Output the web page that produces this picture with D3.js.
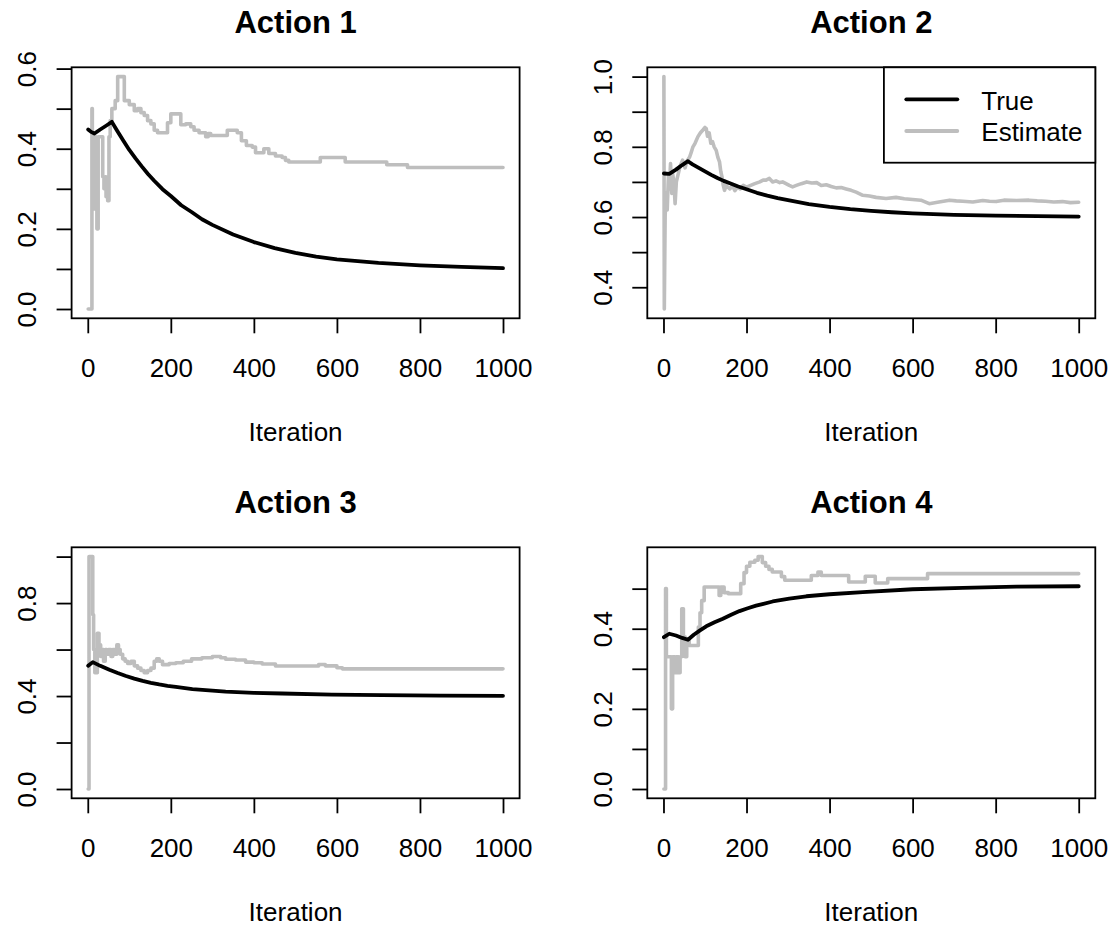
<!DOCTYPE html>
<html><head><meta charset="utf-8">
<script src="https://cdn.jsdelivr.net/npm/d3@7"></script>
<style>
body{margin:0;background:#fff;}
svg{display:block;}
text{font-family:"Liberation Sans",Arial,Helvetica,sans-serif;fill:#000;}
</style>
</head><body>
<svg id="chart" width="1118" height="926"></svg>
<script>
// ---------- data ----------
const titles = ["Action 1", "Action 2", "Action 3", "Action 4"];
const xLabel = "Iteration";
const iterTicks = [0, 200, 400, 600, 800, 1000];
const legendLabels = ["True", "Estimate"];

const yTicks1 = [0, 0.1, 0.2, 0.3, 0.4, 0.5, 0.6];
const yLabels1 = [0, 0.2, 0.4, 0.6];
const yTicks2 = [0.4, 0.5, 0.6, 0.7, 0.8, 0.9, 1.0];
const yLabels2 = [0.4, 0.6, 0.8, 1.0];
const yTicks3 = [0, 0.2, 0.4, 0.6, 0.8, 1.0];
const yLabels3 = [0, 0.4, 0.8];
const yTicks4 = [0, 0.1, 0.2, 0.3, 0.4, 0.5];
const yLabels4 = [0, 0.2, 0.4];

// Action 1
const trueIter1 = [1, 8, 16, 30, 45, 58, 70, 85, 100, 115, 130, 145, 160, 180, 200, 225, 250, 275, 300, 350, 400, 450, 500, 550, 600, 700, 800, 900, 1000];
const trueVal1 = [0.448, 0.442, 0.438, 0.448, 0.458, 0.467, 0.446, 0.421, 0.397, 0.376, 0.356, 0.337, 0.320, 0.299, 0.282, 0.259, 0.242, 0.224, 0.210, 0.186, 0.167, 0.152, 0.140, 0.131, 0.124, 0.115, 0.109, 0.105, 0.102];
const estIter1 = [1, 10, 11, 17, 20, 22, 25, 36, 39, 42, 44, 48, 51, 54, 58, 66, 72, 88, 100, 112, 120, 128, 136, 144, 152, 160, 168, 192, 200, 224, 236, 248, 256, 268, 284, 290, 296, 336, 360, 370, 382, 396, 404, 424, 436, 452, 468, 476, 484, 560, 620, 720, 770, 1000];
const estVal1 = [0, 0.5, 0.25, 0.43, 0.25, 0.2, 0.43, 0.33, 0.3, 0.33, 0.28, 0.27, 0.43, 0.47, 0.5, 0.52, 0.58, 0.52, 0.51, 0.495, 0.5, 0.49, 0.483, 0.47, 0.462, 0.446, 0.44, 0.465, 0.487, 0.46, 0.462, 0.455, 0.446, 0.44, 0.43, 0.438, 0.433, 0.446, 0.44, 0.42, 0.408, 0.404, 0.39, 0.4, 0.388, 0.382, 0.378, 0.371, 0.367, 0.378, 0.367, 0.36, 0.353, 0.353];

// Action 2
const trueIter2 = [1, 14, 30, 45, 59, 70, 85, 100, 115, 130, 145, 160, 180, 200, 225, 250, 275, 300, 350, 400, 450, 500, 550, 600, 700, 800, 900, 1000];
const trueVal2 = [0.724, 0.723, 0.735, 0.748, 0.759, 0.750, 0.740, 0.730, 0.720, 0.711, 0.703, 0.696, 0.687, 0.679, 0.669, 0.661, 0.654, 0.648, 0.637, 0.629, 0.6225, 0.6175, 0.6136, 0.6106, 0.6064, 0.6039, 0.6024, 0.6014];
const estIter2 = [1, 2, 4, 6, 9, 12, 14, 17, 20, 22, 25, 28, 31, 35, 40, 46, 52, 57, 63, 67, 71, 76, 83, 89, 95, 100, 103, 106, 110, 114, 118, 122, 127, 131, 135, 138, 141, 144, 147, 151, 155, 160, 166, 172, 178, 185, 192, 200, 210, 220, 232, 240, 247, 255, 263, 271, 280, 287, 295, 303, 311, 320, 332, 345, 357, 369, 380, 392, 404, 416, 428, 440, 452, 464, 480, 496, 512, 536, 560, 580, 600, 620, 640, 660, 689, 705, 721, 745, 769, 785, 801, 820, 850, 880, 900, 920, 940, 961, 980, 1000];
const estVal2 = [1.0, 0.338, 0.6, 0.667, 0.62, 0.72, 0.68, 0.752, 0.667, 0.724, 0.7, 0.638, 0.7, 0.72, 0.745, 0.762, 0.74, 0.76, 0.771, 0.785, 0.8, 0.81, 0.829, 0.84, 0.848, 0.855, 0.852, 0.83, 0.84, 0.81, 0.815, 0.8, 0.79, 0.77, 0.757, 0.73, 0.714, 0.69, 0.676, 0.69, 0.685, 0.68, 0.69, 0.675, 0.685, 0.68, 0.69, 0.685, 0.69, 0.695, 0.7, 0.705, 0.705, 0.71, 0.7, 0.703, 0.698, 0.7, 0.695, 0.69, 0.686, 0.69, 0.695, 0.7, 0.697, 0.698, 0.69, 0.692, 0.687, 0.683, 0.684, 0.68, 0.676, 0.671, 0.662, 0.66, 0.656, 0.653, 0.656, 0.652, 0.65, 0.648, 0.638, 0.642, 0.648, 0.646, 0.645, 0.643, 0.647, 0.645, 0.644, 0.648, 0.647, 0.648, 0.646, 0.645, 0.643, 0.644, 0.641, 0.642];

// Action 3
const trueIter3 = [1, 12, 30, 52, 72, 92, 112, 132, 152, 172, 192, 212, 252, 292, 332, 400, 468, 588, 709, 850, 1000];
const trueVal3 = [0.53, 0.546, 0.53, 0.513, 0.499, 0.486, 0.475, 0.465, 0.457, 0.45, 0.444, 0.439, 0.43, 0.424, 0.419, 0.414, 0.411, 0.406, 0.404, 0.402, 0.401];
const estIter3 = [1, 3, 12, 14, 17, 19, 21, 23, 27, 31, 35, 38, 42, 46, 50, 56, 60, 66, 70, 74, 78, 84, 90, 96, 104, 112, 120, 128, 136, 144, 152, 160, 166, 172, 180, 196, 212, 230, 250, 275, 300, 320, 332, 356, 380, 400, 420, 452, 556, 572, 600, 613, 1000];
const estVal3 = [0, 1.0, 0.75, 0.6, 0.5, 0.58, 0.5, 0.67, 0.62, 0.57, 0.6, 0.55, 0.6, 0.58, 0.6, 0.57, 0.6, 0.58, 0.62, 0.6, 0.58, 0.56, 0.55, 0.54, 0.55, 0.53, 0.52, 0.51, 0.5, 0.51, 0.52, 0.55, 0.56, 0.55, 0.535, 0.54, 0.543, 0.55, 0.56, 0.565, 0.57, 0.565, 0.558, 0.555, 0.546, 0.543, 0.538, 0.529, 0.536, 0.53, 0.522, 0.517, 0.517];

// Action 4
const trueIter4 = [1, 14, 30, 45, 59, 73, 88, 103, 123, 143, 163, 183, 203, 223, 263, 303, 344, 400, 480, 600, 721, 850, 1000];
const trueVal4 = [0.379, 0.3875, 0.383, 0.377, 0.3725, 0.385, 0.396, 0.406, 0.416, 0.425, 0.435, 0.444, 0.451, 0.4575, 0.468, 0.475, 0.481, 0.486, 0.4915, 0.4985, 0.502, 0.505, 0.506];
const estIter4 = [1, 5, 7, 19, 22, 27, 31, 36, 40, 44, 48, 52, 56, 62, 84, 88, 92, 98, 134, 138, 146, 156, 186, 194, 200, 208, 220, 228, 238, 246, 254, 262, 284, 292, 356, 372, 380, 446, 486, 510, 540, 636, 1000];
const estVal4 = [0, 0.5, 0.33, 0.2, 0.33, 0.29, 0.33, 0.29, 0.33, 0.45, 0.38, 0.33, 0.37, 0.358, 0.404, 0.44, 0.47, 0.504, 0.483, 0.504, 0.49, 0.4875, 0.5125, 0.54, 0.556, 0.566, 0.571, 0.58, 0.565, 0.556, 0.548, 0.5415, 0.53, 0.521, 0.533, 0.5415, 0.533, 0.5165, 0.531, 0.514, 0.525, 0.5375, 0.5375];

// ---------- layout ----------
const panels = [
  {title: titles[0], tI: trueIter1, tV: trueVal1, eI: estIter1, eV: estVal1, step: true,  yT: yTicks1, yL: yLabels1, col: 0, row: 0, legend: false},
  {title: titles[1], tI: trueIter2, tV: trueVal2, eI: estIter2, eV: estVal2, step: false, yT: yTicks2, yL: yLabels2, col: 1, row: 0, legend: true},
  {title: titles[2], tI: trueIter3, tV: trueVal3, eI: estIter3, eV: estVal3, step: true,  yT: yTicks3, yL: yLabels3, col: 0, row: 1, legend: false},
  {title: titles[3], tI: trueIter4, tV: trueVal4, eI: estIter4, eV: estVal4, step: true,  yT: yTicks4, yL: yLabels4, col: 1, row: 1, legend: false}
];
const colLeft = [71.6, 647.3], rowTop = [67.3, 547.3];
const boxW = 448, boxH = 251;
const grayCol = "#BEBEBE";
const fontSize = 26, titleSize = 31;
const svg = d3.select("#chart");
svg.append("rect").attr("width", 1118).attr("height", 926).attr("fill", "#fff");

const fmt = d3.format(".1f");

panels.forEach(p => {
  const left = colLeft[p.col], top = rowTop[p.row];
  const bottom = top + boxH, right = left + boxW;
  const xs = 1000 - 1;
  const x = d3.scaleLinear().domain([1 - 0.04 * xs, 1000 + 0.04 * xs]).range([left, right]);
  const [lo, hi] = d3.extent(p.tV.concat(p.eV));
  const ys = hi - lo;
  const y = d3.scaleLinear().domain([lo - 0.04 * ys, hi + 0.04 * ys]).range([bottom, top]);
  const g = svg.append("g");

  // estimate (gray)
  const est = p.eI.map((it, i) => [it, p.eV[i]]);
  g.append("path")
    .attr("d", d3.line().x(d => x(d[0])).y(d => y(d[1])).curve(p.step ? d3.curveStepAfter : d3.curveLinear)(est))
    .attr("fill", "none").attr("stroke", grayCol).attr("stroke-width", 3.6)
    .attr("stroke-linejoin", "round").attr("stroke-linecap", "round");

  // true (black)
  const tr = p.tI.map((it, i) => [it, p.tV[i]]);
  g.append("path")
    .attr("d", d3.line().x(d => x(d[0])).y(d => y(d[1])).curve(d3.curveLinear)(tr))
    .attr("fill", "none").attr("stroke", "#000").attr("stroke-width", 3.8)
    .attr("stroke-linejoin", "round").attr("stroke-linecap", "round");

  // box
  g.append("rect").attr("x", left).attr("y", top).attr("width", boxW).attr("height", boxH)
    .attr("fill", "none").attr("stroke", "#000").attr("stroke-width", 1.8);

  // x axis
  const xa = g.append("g").attr("transform", `translate(0,${bottom})`)
    .call(d3.axisBottom(x).tickValues(iterTicks).tickSize(15).tickFormat(d3.format("d")));
  xa.select(".domain").remove();
  xa.selectAll(".tick line").attr("stroke", "#000").attr("stroke-width", 1.8);
  xa.selectAll(".tick text").attr("y", 58.7).attr("dy", 0)
    .attr("font-size", fontSize).attr("font-family", '"Liberation Sans",Arial,sans-serif').attr("fill", "#000");

  // y axis
  const ya = g.append("g").attr("transform", `translate(${left},0)`)
    .call(d3.axisLeft(y).tickValues(p.yT).tickSize(15)
      .tickFormat(d => p.yL.some(v => Math.abs(v - d) < 1e-9) ? fmt(d) : ""));
  ya.select(".domain").remove();
  ya.selectAll(".tick line").attr("stroke", "#000").attr("stroke-width", 1.8);
  ya.selectAll(".tick text")
    .attr("transform", "rotate(-90)")
    .attr("x", 0).attr("y", -35.8).attr("dy", 0)
    .attr("text-anchor", "middle")
    .attr("font-size", fontSize).attr("font-family", '"Liberation Sans",Arial,sans-serif').attr("fill", "#000");

  // title
  g.append("text").attr("x", (left + right) / 2).attr("y", top - 34.3)
    .attr("text-anchor", "middle").attr("font-size", titleSize).attr("font-weight", "bold")
    .text(p.title);

  // x label
  g.append("text").attr("x", (left + right) / 2).attr("y", bottom + 122.5)
    .attr("text-anchor", "middle").attr("font-size", fontSize).text(xLabel);

  // legend
  if (p.legend) {
    const lw = 211.4, lh = 95.4;
    const lx = right - lw;
    g.append("rect").attr("x", lx).attr("y", top).attr("width", lw).attr("height", lh)
      .attr("fill", "#fff").attr("stroke", "#000").attr("stroke-width", 1.8);
    const colors = ["#000", grayCol];
    const rowsY = [top + 32, top + 63.7];
    legendLabels.forEach((lab, i) => {
      g.append("line").attr("x1", lx + 22.4).attr("x2", lx + 73.4)
        .attr("y1", rowsY[i]).attr("y2", rowsY[i])
        .attr("stroke", colors[i]).attr("stroke-width", 3.8).attr("stroke-linecap", "round");
      g.append("text").attr("x", lx + 97.4).attr("y", rowsY[i] + 10.2)
        .attr("font-size", fontSize).text(lab);
    });
  }
});
</script>
</body></html>
